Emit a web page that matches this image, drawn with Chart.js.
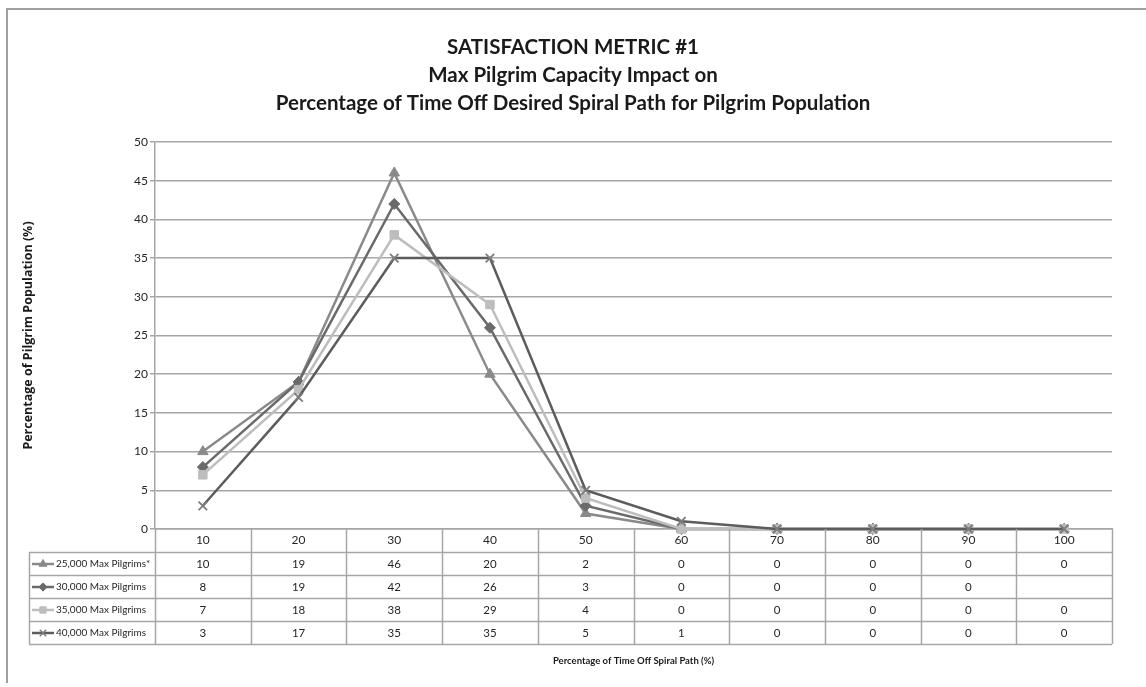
<!DOCTYPE html>
<html>
<head>
<meta charset="utf-8">
<script src="https://cdn.jsdelivr.net/npm/chart.js@4/dist/chart.umd.min.js"></script>
<style>
  html, body { margin: 0; padding: 0; background: #fff; }
  #wrap { position: relative; width: 1146px; height: 687px; overflow: hidden; }
  #frame { position: absolute; left: 6px; top: 8px; width: 1200px; height: 675px; border-left: 2px solid #a0a0a0; border-top: 2px solid #a0a0a0; box-sizing: border-box; }
  canvas { position: absolute; left: 0; top: 0; }
</style>
</head>
<body>
<div id="wrap">
  <div id="frame"></div>
  <canvas id="c" width="1146" height="687"></canvas>
</div>
<script>
const categories = ['10', '20', '30', '40', '50', '60', '70', '80', '90', '100'];
const seriesNames = ['25,000 Max Pilgrims*', '30,000 Max Pilgrims', '35,000 Max Pilgrims', '40,000 Max Pilgrims'];
const pilgrims25000 = [10, 19, 46, 20, 2, 0, 0, 0, 0, 0];
const pilgrims30000 = [8, 19, 42, 26, 3, 0, 0, 0, 0, null];
const pilgrims35000 = [7, 18, 38, 29, 4, 0, 0, 0, 0, 0];
const pilgrims40000 = [3, 17, 35, 35, 5, 1, 0, 0, 0, 0];
const yTicks = [0, 5, 10, 15, 20, 25, 30, 35, 40, 45, 50];
const titleLines = ['SATISFACTION METRIC #1', 'Max Pilgrim Capacity Impact on', 'Percentage of Time Off Desired Spiral Path for Pilgrim Population'];
const yTitle = 'Percentage of Pilgrim Population (%)';
const xTitle = 'Percentage of Time Off Spiral Path (%)';

const FONT = 'Lato, "Open Sans", sans-serif';
const seriesValues = [pilgrims25000, pilgrims30000, pilgrims35000, pilgrims40000];
const colors = ['#8a8a8a', '#6a6a6a', '#bdbdbd', '#5c5c5c'];
const styles = [
  { pointStyle: 'triangle', radius: 6, rotation: 0 },
  { pointStyle: 'rectRot', radius: 5.5, rotation: 0 },
  { pointStyle: 'rect', radius: 6, rotation: 0 },
  { pointStyle: 'crossRot', radius: 6, rotation: 0 }
];
const orders = [3, 2, 1, 0];

const datasets = seriesValues.map((vals, i) => ({
  label: seriesNames[i],
  data: vals,
  borderColor: colors[i],
  backgroundColor: colors[i],
  borderWidth: 2.5,
  pointStyle: styles[i].pointStyle,
  pointRadius: styles[i].radius,
  pointBorderColor: i === 3 ? '#7c7c7c' : colors[i],
  pointBackgroundColor: colors[i],
  pointBorderWidth: i === 3 ? 1.8 : 1,
  spanGaps: false,
  clip: false,
  order: orders[i],
  tension: 0,
  yAxisID: 'y'
}));

const tablePlugin = {
  id: 'dataTable',
  afterDraw(chart) {
    const ctx = chart.ctx;
    const x = chart.scales.x;
    const area = chart.chartArea;
    const n = categories.length;
    const colW = (area.right - area.left) / n;
    const rowH = 23;
    const headerTop = area.bottom;
    const rowsTop = headerTop + rowH;
    const legendLeft = 29;
    ctx.save();
    ctx.strokeStyle = '#a6a6a6';
    ctx.lineWidth = 1.5;
    ctx.beginPath();
    for (let r = 0; r <= seriesNames.length; r++) {
      const y = Math.round(rowsTop + r * rowH) + 0.5;
      ctx.moveTo(legendLeft, y);
      ctx.lineTo(area.right, y);
    }
    for (let c = 0; c <= n; c++) {
      const xx = Math.round(area.left + c * colW) + 0.5;
      ctx.moveTo(xx, headerTop);
      ctx.lineTo(xx, rowsTop + seriesNames.length * rowH);
    }
    ctx.moveTo(legendLeft + 0.5, rowsTop);
    ctx.lineTo(legendLeft + 0.5, rowsTop + seriesNames.length * rowH);
    ctx.stroke();

    ctx.textBaseline = 'middle';
    seriesValues.forEach((vals, r) => {
      const cy = rowsTop + r * rowH + rowH / 2 + 0.5;
      ctx.strokeStyle = colors[r];
      ctx.lineWidth = 2.5;
      ctx.beginPath();
      ctx.moveTo(32, cy);
      ctx.lineTo(54, cy);
      ctx.stroke();
      ctx.fillStyle = colors[r];
      ctx.strokeStyle = r === 3 ? '#7c7c7c' : colors[r];
      ctx.lineWidth = r === 3 ? 1.5 : 1;
      Chart.helpers.drawPoint(ctx, { pointStyle: styles[r].pointStyle, radius: styles[r].radius * 0.75, rotation: 0, borderWidth: ctx.lineWidth }, 43, cy);
      ctx.fillStyle = '#262626';
      ctx.textAlign = 'left';
      ctx.font = '10px ' + FONT;
      ctx.fillText(seriesNames[r], 56, cy);
      ctx.textAlign = 'center';
      ctx.font = '11.5px ' + FONT;
      vals.forEach((v, c) => {
        if (v === null || v === undefined) return;
        ctx.fillText(String(v), x.getPixelForValue(c), cy);
      });
    });
    ctx.restore();
  }
};

new Chart(document.getElementById('c'), {
  type: 'line',
  data: { labels: categories, datasets: datasets },
  options: {
    responsive: false,
    animation: false,
    events: [],
    layout: { padding: { left: 0, right: 0, top: 0, bottom: 0 } },
    plugins: {
      legend: { display: false },
      tooltip: { enabled: false },
      title: {
        display: true,
        text: titleLines,
        color: '#1a1a1a',
        font: { family: FONT, size: 20.5, weight: 'bold', lineHeight: '28px' },
        padding: { top: 33, bottom: 25 }
      }
    },
    scales: {
      x: {
        type: 'category',
        offset: true,
        grid: { display: false, drawTicks: false },
        border: { display: true, color: '#a6a6a6', width: 1.5 },
        ticks: { color: '#262626', font: { family: FONT, size: 12 }, padding: 4, maxRotation: 0, autoSkip: false },
        title: { display: true, text: xTitle, color: '#1a1a1a', font: { family: FONT, size: 9.5, weight: 'bold', lineHeight: 1.2 }, padding: { top: 0, bottom: 20 } },
        afterFit(scale) { scale.height = 158; }
      },
      y: {
        min: 0,
        max: 50,
        afterBuildTicks(scale) { scale.ticks = yTicks.map(v => ({ value: v })); },
        grid: { color: '#a6a6a6', lineWidth: 1.5, drawTicks: true, tickLength: 5, tickColor: '#a6a6a6' },
        border: { display: true, color: '#a6a6a6', width: 1.5 },
        ticks: { color: '#262626', font: { family: FONT, size: 12 }, padding: 2 },
        title: { display: true, text: yTitle, color: '#1a1a1a', font: { family: '"Open Sans", sans-serif', size: 12.5, weight: 'bold', lineHeight: 1.2 }, padding: { top: 21, bottom: 0 } },
        afterFit(scale) { scale.width = 155; }
      },
      yRight: {
        position: 'right',
        min: 0,
        max: 50,
        grid: { display: false, drawTicks: false },
        border: { display: false },
        ticks: { display: false },
        afterFit(scale) { scale.width = 34; }
      }
    }
  },
  plugins: [tablePlugin]
});
</script>
</body>
</html>
